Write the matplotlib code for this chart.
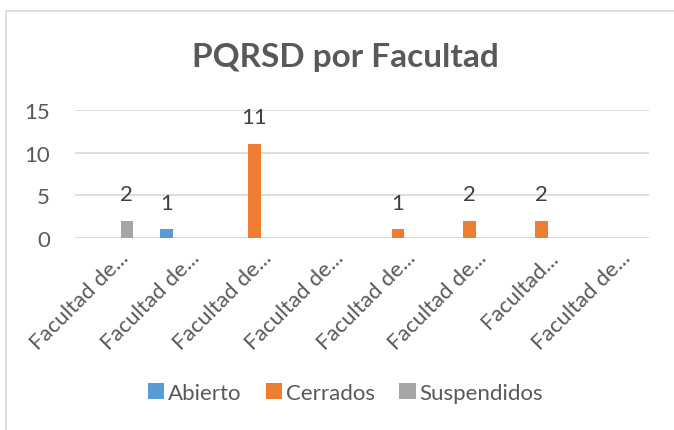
import matplotlib
matplotlib.use("Agg")
import matplotlib.pyplot as plt
import matplotlib.transforms as mtransforms
import numpy as np
from matplotlib.patches import Rectangle

categories = ["Facultad de...", "Facultad de...", "Facultad de...", "Facultad de...",
              "Facultad de...", "Facultad de...", "Facultad...", "Facultad de..."]
series_names = ["Abierto", "Cerrados", "Suspendidos"]
abierto = [0, 1, 0, 0, 0, 0, 0, 0]
cerrados = [0, 0, 11, 0, 1, 2, 2, 0]
suspendidos = [2, 0, 0, 0, 0, 0, 0, 0]
colors = ["#5B9BD5", "#ED7D31", "#A5A5A5"]

plt.rcParams['font.family'] = ['Lato', 'DejaVu Sans']

fig = plt.figure(figsize=(6.74, 4.31), dpi=100)
fig.patches.append(Rectangle((6/674, -0.1), 1.2, 1.1 - 12/431, transform=fig.transFigure,
                             fill=False, edgecolor="#D9D9D9", lw=1.2))
ax = fig.add_axes([75/674, 1 - 239/431, (649 - 75)/674, (239 - 111)/431])

x = np.arange(len(categories))
w = 0.1745
off = 0.2216
for i, (vals, name, c) in enumerate(zip([abierto, cerrados, suspendidos], series_names, colors)):
    pos = x + (i - 1) * off
    ax.bar(pos, vals, width=w, color=c, label=name, zorder=3)
    for p, v in zip(pos, vals):
        if v > 0:
            ax.annotate(str(v), (p, v), xytext=(0, 12), textcoords="offset points",
                        ha="center", va="bottom", fontsize=16, color="#404040")

ax.set_xlim(-0.5, len(categories) - 0.5)
ax.set_ylim(0, 15)
ax.set_yticks([0, 5, 10, 15])
ax.yaxis.grid(True, color="#D9D9D9", lw=1.2, zorder=0)
for s in ax.spines.values():
    s.set_visible(False)
ax.axhline(0, color="#D9D9D9", lw=1.2, zorder=2)
ax.tick_params(axis="both", length=0, labelsize=16, colors="#595959")
ax.tick_params(axis="y", pad=18)
ax.set_xticks(x)
ax.set_xticklabels(categories, rotation=45, ha="right", rotation_mode="anchor")
ax.tick_params(axis="x", pad=9)
shift = mtransforms.ScaledTranslation(7/100, 3/100, fig.dpi_scale_trans)
for lbl in ax.get_xticklabels():
    lbl.set_transform(lbl.get_transform() + shift)

fig.text(0.512, 1 - 57/431, "PQRSD por Facultad", ha="center", va="center",
         fontsize=24, fontweight="bold", color="#595959")

fig.legend(loc="center", bbox_to_anchor=(0.512, 1 - 394/431), ncol=3, frameon=False,
           fontsize=16, handlelength=0.75, handleheight=0.75, handletextpad=0.15,
           columnspacing=1.1, labelcolor="#595959")

fig.savefig("out.png", dpi=100)
